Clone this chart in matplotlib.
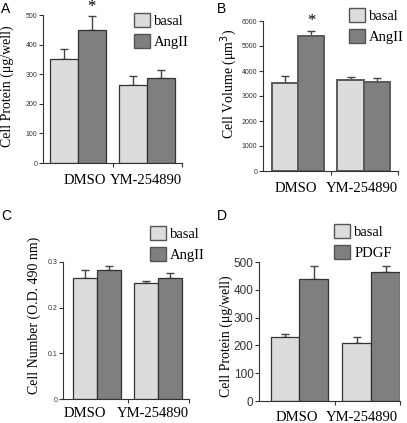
import matplotlib
matplotlib.use('Agg')
from matplotlib import pyplot as plt
from matplotlib.patches import Patch
from matplotlib.ticker import FuncFormatter

W, H = 407, 423

groups = ['DMSO', 'YM-254890']

# panel A: cell protein, AngII
a_basal = [350, 265]
a_basal_err = [35, 30]
a_stim = [450, 288]
a_stim_err = [45, 27]

# panel B: cell volume, AngII
b_basal = [3500, 3650]
b_basal_err = [300, 100]
b_stim = [5400, 3550]
b_stim_err = [200, 170]

# panel C: cell number, AngII
c_basal = [0.265, 0.253]
c_basal_err = [0.018, 0.005]
c_stim = [0.282, 0.264]
c_stim_err = [0.009, 0.011]

# panel D: cell protein, PDGF
d_basal = [232, 210]
d_basal_err = [8, 22]
d_stim = [440, 465]
d_stim_err = [45, 20]

light = '#dcdcdc'
dark = '#7f7f7f'
serif = ['Liberation Serif', 'DejaVu Serif']
sans = ['Liberation Sans', 'DejaVu Sans']


def px_rect(l, t, r, b):
    return [l / W, 1 - b / H, (r - l) / W, (b - t) / H]


def draw_panel(fig, rect, xlim, basal, basal_err, stim, stim_err, yticks,
               ylabel, stim_name, tick_fs, edge, edge_lw, star=None):
    ax = fig.add_axes(px_rect(*rect))
    x = [0, 1]
    w = 0.4
    xb = [i - w / 2 for i in x]
    xs = [i + w / 2 for i in x]
    ax.bar(xb, basal, width=w, color=light, edgecolor=edge, linewidth=edge_lw, zorder=2)
    ax.bar(xs, stim, width=w, color=dark, edgecolor=edge, linewidth=edge_lw, zorder=2)
    ax.errorbar(xb, basal, yerr=[[0, 0], basal_err], fmt='none', ecolor='#444444',
                elinewidth=1, capsize=3, capthick=1, zorder=1)
    ax.errorbar(xs, stim, yerr=[[0, 0], stim_err], fmt='none', ecolor='#444444',
                elinewidth=1, capsize=3, capthick=1, zorder=1)
    if star is not None:
        top = stim[star] + stim_err[star]
        ax.text(xs[star], top + (yticks[-1] * 0.01), '*', ha='center', va='bottom',
                fontsize=12, family=serif)
    ax.set_xlim(*xlim)
    ax.set_ylim(0, yticks[-1])
    ax.set_yticks(yticks)
    ax.yaxis.set_major_formatter(FuncFormatter(lambda v, p: '%g' % v))
    ax.set_xticks([0.5, xlim[1]])
    ax.set_xticklabels([])
    for s in ['top', 'right']:
        ax.spines[s].set_visible(False)
    for s in ['left', 'bottom']:
        ax.spines[s].set_linewidth(0.8)
        ax.spines[s].set_color('#333333')
    ax.tick_params(direction='out', length=3, width=0.8, colors='#333333',
                   labelsize=tick_fs, pad=1)
    for lab in ax.get_yticklabels():
        lab.set_family(sans)
    ax.set_ylabel(ylabel, family=serif, fontsize=10, labelpad=2)
    ax.legend(handles=[Patch(facecolor=light, edgecolor='#555555', label='basal'),
                       Patch(facecolor=dark, edgecolor='#555555', label=stim_name)],
              frameon=False, loc='upper left', prop={'family': serif, 'size': 10.5},
              handlelength=1.1, handleheight=1.1, handletextpad=0.3,
              labelspacing=0.45, borderaxespad=0)
    return ax


fig = plt.figure(figsize=(W / 100, H / 100), dpi=100)

axA = draw_panel(fig, (43, 15, 182, 163), (-0.507, 1.507), a_basal, a_basal_err, a_stim,
                 a_stim_err, [0, 100, 200, 300, 400, 500], 'Cell Protein (\u03bcg/well)',
                 'AngII', 5, '#333333', 0.9, star=0)
axB = draw_panel(fig, (263, 21, 398, 171), (-0.53, 1.52), b_basal, b_basal_err, b_stim,
                 b_stim_err, [0, 1000, 2000, 3000, 4000, 5000, 6000],
                 'Cell Volume (\u03bcm$^3$)', 'AngII', 5, '#5a5a5a', 1.4, star=0)
axC = draw_panel(fig, (63, 262, 189, 399), (-0.56, 1.51), c_basal, c_basal_err, c_stim,
                 c_stim_err, [0, 0.1, 0.2, 0.3], 'Cell Number (O.D. 490 nm)',
                 'AngII', 5, '#333333', 0.9)
axD = draw_panel(fig, (259, 262, 400, 401), (-0.56, 1.4), d_basal, d_basal_err, d_stim,
                 d_stim_err, [0, 100, 200, 300, 400, 500], 'Cell Protein (\u03bcg/well)',
                 'PDGF', 8.5, '#333333', 0.9)

# legend placement (pixel positions of the top-left square)
for ax, (lx, ly) in [(axA, (128, 7)), (axB, (343, 2)), (axC, (144, 220)), (axD, (328, 218))]:
    ax.get_legend().set_bbox_to_anchor((lx / W, 1 - ly / H), transform=fig.transFigure)

# y label positions (right edge x, centre y, in pixels)
for ax, (rx, cy) in [(axA, (14, 86)), (axB, (239, 84)), (axC, (41, 315)), (axD, (233, 336))]:
    ax.yaxis.set_label_coords(rx / W, 1 - cy / H, transform=fig.transFigure)

# category labels (pixel centres)
cat_pos = [((85, 180), (146, 180)), ((296, 188), (362, 188)),
           ((85, 413), (153, 413)), ((297, 417), (362, 417))]
for pair in cat_pos:
    for name, (cx, cy) in zip(groups, pair):
        fig.text(cx / W, 1 - cy / H, name, ha='center', va='center', family=serif,
                 fontsize=10.5)

for letter, (cx, cy) in [('A', (6, 9)), ('B', (222, 9)), ('C', (6, 216)), ('D', (222, 216))]:
    fig.text(cx / W, 1 - cy / H, letter, ha='center', va='center', family=sans,
             fontsize=10)

fig.savefig('out.png', dpi=100)
